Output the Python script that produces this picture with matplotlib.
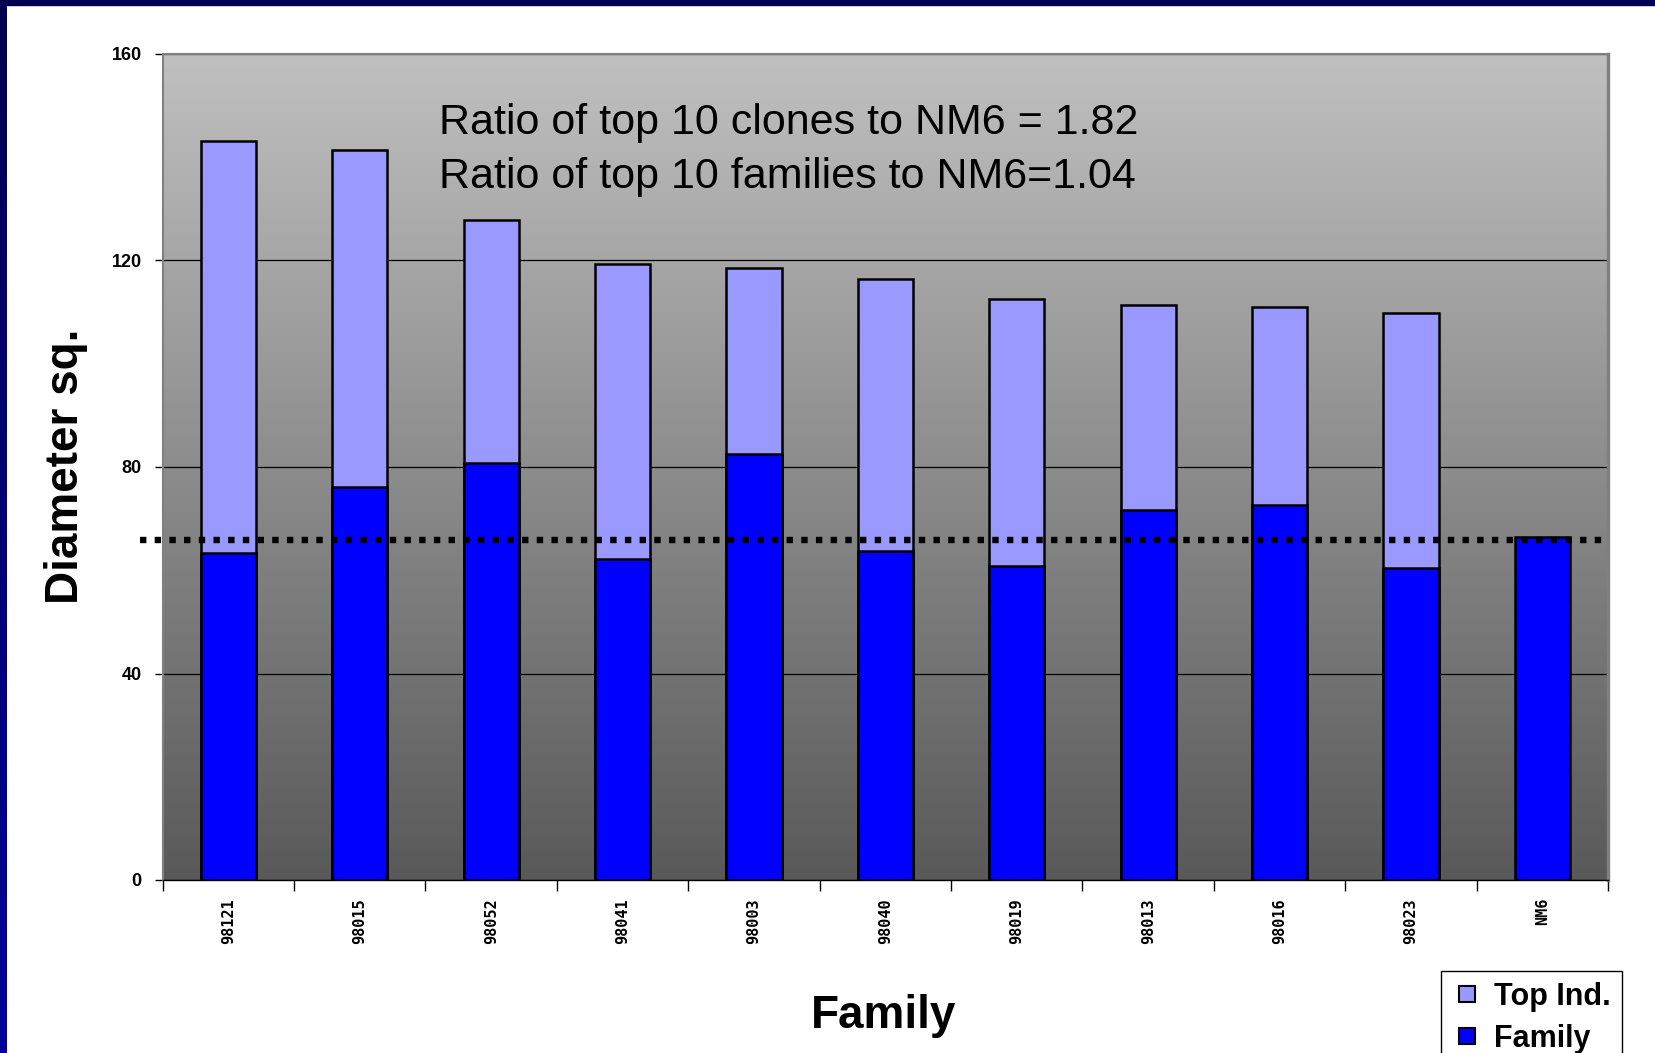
import matplotlib
matplotlib.use('Agg')
import matplotlib.pyplot as plt
import numpy as np
from matplotlib.colors import LinearSegmentedColormap
from matplotlib.lines import Line2D
from matplotlib.patches import Rectangle

families = ['98121', '98015', '98052', '98041', '98003', '98040',
            '98019', '98013', '98016', '98023', 'NM6']
top_ind = [143.2, 141.4, 127.9, 119.3, 118.6, 116.4, 112.5, 111.3, 110.9, 109.8, 0]
family_avg = [63.3, 76.2, 80.7, 62.1, 82.6, 63.7, 60.9, 71.7, 72.7, 60.5, 66.4]
nm6_level = 65.8
yticks = [0, 40, 80, 120, 160]
notes = ['Ratio of top 10 clones to NM6 = 1.82',
         'Ratio of top 10 families to NM6=1.04']

plt.rcParams['font.family'] = ['Liberation Sans', 'DejaVu Sans']

W, H = 1656, 1053
fig = plt.figure(figsize=(W / 100, H / 100), dpi=100)
fig.patch.set_facecolor('white')

# navy frame on the left and top
edge = fig.add_axes([0, 0, 7 / W, 1])
edge.imshow(np.linspace(0, 1, 256).reshape(-1, 1), aspect='auto', origin='lower',
            cmap=LinearSegmentedColormap.from_list('navy', ['#000099', '#000050']))
edge.axis('off')
fig.patches.append(Rectangle((0, 1 - 5 / H), 1, 5 / H, transform=fig.transFigure,
                             color='#000050', zorder=5))

ax = fig.add_axes([162.7 / W, 1 - 880 / H, (1608 - 162.7) / W, (880 - 54) / H])
x = np.arange(len(families))

# grey gradient plot area
bg = LinearSegmentedColormap.from_list('bg', ['#595959', '#c0c0c0'])
ax.imshow(np.linspace(0, 1, 256).reshape(-1, 1), extent=(-0.5, 10.5, 0, 160),
          origin='lower', cmap=bg, aspect='auto', zorder=-1)

ax.bar(x, top_ind, width=0.42, color='#9999ff', edgecolor='black', lw=1.8, zorder=2)
ax.bar(x, family_avg, width=0.42, color='#0000ff', edgecolor='black', lw=1.8, zorder=3)

# NM6 reference level
ax.plot([-0.67, 10.5], [nm6_level, nm6_level], color='black', lw=4.6,
        linestyle=(0, (1, 1.3)), dash_capstyle='butt', clip_on=False, zorder=4)

ax.set_xlim(-0.5, 10.5)
ax.set_ylim(0, 160)
ax.set_yticks(yticks)
ax.yaxis.grid(True, color='black', lw=0.9)
ax.set_axisbelow(True)

ax.set_xticks(x)
ax.set_xticklabels(families, rotation=90, family='DejaVu Sans Mono',
                   fontsize=11, fontweight='bold')
ax.set_xticks(np.arange(-0.5, 11, 1), minor=True)
ax.tick_params(axis='x', which='major', length=0, pad=13)
ax.tick_params(axis='x', which='minor', length=8, width=1, direction='out')
ax.tick_params(axis='y', length=6, width=1, direction='out', pad=9)
for lbl in ax.get_yticklabels():
    lbl.set_fontsize(13)
    lbl.set_fontweight('bold')

for side in ['left', 'top']:
    ax.spines[side].set_color('#808080')
    ax.spines[side].set_linewidth(1.5)
ax.spines['right'].set_color('#808080')
ax.spines['right'].set_linewidth(2.5)
ax.spines['bottom'].set_color('black')
ax.spines['bottom'].set_linewidth(1)

fig.text(439 / W, 1 - 134 / H, notes[0], fontsize=31, va='baseline')
fig.text(439 / W, 1 - 188 / H, notes[1], fontsize=31, va='baseline')

fig.text(66 / W, 1 - 466 / H, 'Diameter sq.', rotation=90, fontsize=33,
         fontweight='bold', ha='center', va='center')
fig.text(884 / W, 1 - 1016 / H, 'Family', fontsize=33, fontweight='bold',
         ha='center', va='center')

handles = [Line2D([], [], ls='none', marker='s', ms=11, mfc='#9999ff', mec='black', mew=1.5),
           Line2D([], [], ls='none', marker='s', ms=11, mfc='#0000ff', mec='black', mew=1.5)]
leg = fig.legend(handles, ['Top Ind.', 'Family'], loc='upper left',
                 bbox_to_anchor=(1441 / W, 1 - 971 / H), bbox_transform=fig.transFigure,
                 frameon=True, fancybox=False, edgecolor='black', framealpha=1,
                 borderpad=0.35, borderaxespad=0, handlelength=1.0, handletextpad=0.4,
                 labelspacing=0.4, prop=dict(weight='bold', size=22))
leg.get_frame().set_linewidth(1)

fig.savefig('out.png', dpi=100)
